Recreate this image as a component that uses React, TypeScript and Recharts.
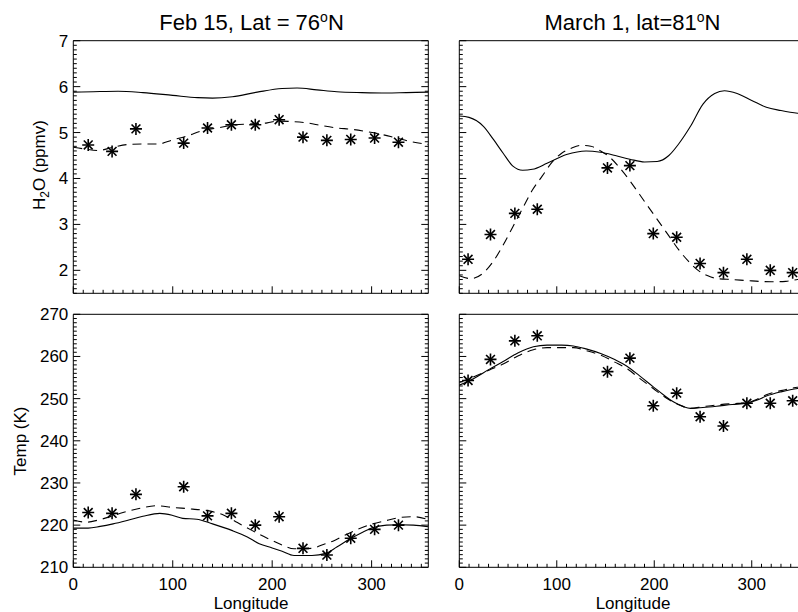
import React from 'react';
import { ComposedChart, Line, Scatter, XAxis, YAxis } from 'recharts';

const FONT = '"Liberation Sans", Arial, Helvetica, sans-serif';

// ---------- Feb 15, Lat = 76N ----------
const febObsLon = [15, 39, 63, 111, 135, 159, 183, 207, 231, 255, 279, 303, 327];
const febObsH2O = [4.73, 4.59, 5.08, 4.77, 5.1, 5.17, 5.17, 5.28, 4.9, 4.83, 4.85, 4.88, 4.79];
const febObsTemp = [223.0, 222.8, 227.3, 229.1, 222.2, 222.8, 220.0, 222.0, 214.5, 212.9, 216.9, 219.0, 220.0];

const febSolidH2OLon = [0, 20, 45, 70, 100, 125, 140, 160, 185, 210, 225, 245, 265, 290, 315, 335, 357];
const febSolidH2O = [5.88, 5.89, 5.9, 5.87, 5.81, 5.76, 5.75, 5.78, 5.88, 5.96, 5.97, 5.93, 5.89, 5.87, 5.86, 5.87, 5.88];

const febDashH2OLon = [0, 12, 25, 40, 55, 70, 85, 100, 115, 130, 145, 160, 180, 195, 205, 220, 235, 250, 265, 280, 295, 310, 325, 340, 357];
const febDashH2O = [4.68, 4.64, 4.61, 4.68, 4.74, 4.75, 4.75, 4.84, 4.93, 5.04, 5.1, 5.16, 5.19, 5.21, 5.25, 5.24, 5.21, 5.15, 5.1, 5.07, 5.02, 4.96, 4.88, 4.8, 4.74];

const febSolidTLon = [0, 15, 27, 40, 54, 70, 87, 100, 110, 124, 140, 160, 175, 187, 200, 210, 222, 240, 254, 265, 278, 290, 301, 315, 328, 342, 357];
const febSolidT = [219.3, 219.3, 219.7, 220.3, 221.1, 222.1, 222.8, 222.3, 221.6, 221.4, 220.3, 218.7, 217.2, 215.6, 214.6, 213.8, 212.8, 212.8, 213.3, 214.8, 216.7, 218.2, 219.4, 220.0, 220.1, 220.0, 219.6];

const febDashTLon = [0, 13, 25, 37, 50, 65, 84, 100, 120, 140, 152, 165, 180, 195, 210, 222, 240, 250, 261, 272, 285, 301, 315, 328, 342, 357];
const febDashT = [221.2, 220.7, 221.2, 222.0, 223.0, 223.9, 224.6, 224.2, 223.8, 223.2, 222.3, 220.6, 218.7, 216.9, 215.3, 214.4, 214.5, 215.3, 216.2, 217.5, 218.9, 220.3, 221.1, 221.8, 222.0, 221.3];

// ---------- March 1, lat = 81N ----------
const marObsLon = [9, 32, 57, 80, 152, 175, 199, 223, 247, 271, 295, 319, 342];
const marObsH2O = [2.24, 2.78, 3.24, 3.33, 4.23, 4.28, 2.8, 2.72, 2.15, 1.95, 2.24, 2.0, 1.95];
const marObsTemp = [254.3, 259.3, 263.7, 264.9, 256.4, 259.6, 248.3, 251.3, 245.7, 243.5, 248.9, 248.9, 249.5];

const marSolidH2OLon = [0, 10, 25, 35, 45, 55, 65, 75, 90, 110, 130, 145, 160, 175, 190, 203, 215, 225, 237, 250, 262, 272, 285, 300, 315, 330, 347, 357];
const marSolidH2O = [5.36, 5.33, 5.13, 4.85, 4.55, 4.27, 4.18, 4.2, 4.33, 4.52, 4.6, 4.57, 4.5, 4.42, 4.36, 4.37, 4.5, 4.75, 5.13, 5.62, 5.85, 5.91, 5.85, 5.7, 5.55, 5.48, 5.42, 5.4];

const marDashH2OLon = [0, 12, 25, 35, 45, 55, 65, 75, 85, 95, 105, 115, 125, 135, 145, 155, 165, 175, 185, 195, 205, 215, 225, 235, 245, 255, 265, 280, 300, 320, 335, 347, 357];
const marDashH2O = [1.88, 1.82, 1.95, 2.2, 2.55, 2.95, 3.35, 3.75, 4.05, 4.35, 4.55, 4.66, 4.72, 4.7, 4.6, 4.45, 4.22, 3.95, 3.65, 3.35, 3.05, 2.75, 2.45, 2.2, 2.0, 1.88, 1.82, 1.8, 1.77, 1.75, 1.76, 1.8, 1.82];

const marSolidTLon = [0, 15, 31, 45, 60, 76, 90, 105, 117, 130, 145, 160, 172, 185, 199, 210, 220, 230, 237, 250, 264, 280, 295, 305, 315, 330, 347, 357];
const marSolidT = [253.2, 254.8, 257.0, 258.8, 260.8, 262.3, 262.7, 262.7, 262.5, 261.8, 260.7, 259.2, 257.7, 255.4, 252.8, 250.8, 249.2, 248.1, 247.7, 247.9, 248.2, 248.6, 248.9, 249.6, 250.6, 251.6, 252.4, 252.6];

const marDashTLon = marSolidTLon;
const marDashT = [253.8, 255.2, 256.8, 258.2, 260.1, 261.6, 262.1, 262.1, 262.1, 261.4, 260.3, 258.6, 257.1, 254.8, 252.4, 250.5, 249.1, 248.1, 247.7, 248.1, 248.5, 248.8, 249.0, 249.8, 250.9, 251.9, 252.7, 252.9];

// ---------- axes ----------
const lonDomain: [number, number] = [0, 357];
const lonMajorTicks = [0, 100, 200, 300];
const lonMinorStep = 10;
const h2oDomain: [number, number] = [1.5, 7];
const h2oMajorTicks = [2, 3, 4, 5, 6, 7];
const h2oMinorStep = 0.1;
const tempDomain: [number, number] = [210, 270];
const tempMajorTicks = [210, 220, 230, 240, 250, 260, 270];
const tempMinorStep = 1;

const titles = ['Feb 15, Lat = 76', 'March 1, lat=81'];
const latLabels = ['o', 'N'];

type Pt = { lon: number; v: number };
const zip = (lons: number[], vals: number[]): Pt[] => lons.map((lon, i) => ({ lon, v: vals[i] }));

const buildTicks = (dom: [number, number], step: number): number[] => {
  const out: number[] = [];
  const n = Math.round((dom[1] - dom[0]) / step);
  for (let i = 0; i <= n; i++) out.push(Math.round((dom[0] + i * step) * 1000) / 1000);
  return out.filter((v) => v >= dom[0] - 1e-9 && v <= dom[1] + 1e-9);
};

const isIn = (arr: number[], v: number) => arr.some((a) => Math.abs(a - v) < 1e-6);

function Star(props: any) {
  const { cx, cy } = props;
  if (cx == null || cy == null) return <g />;
  const r = 6;
  const d = 4.4;
  return (
    <g stroke="#000" strokeWidth={1.6}>
      <line x1={cx - r} y1={cy} x2={cx + r} y2={cy} />
      <line x1={cx} y1={cy - r} x2={cx} y2={cy + r} />
      <line x1={cx - d} y1={cy - d} x2={cx + d} y2={cy + d} />
      <line x1={cx - d} y1={cy + d} x2={cx + d} y2={cy - d} />
    </g>
  );
}

type PanelProps = {
  left: number;
  top: number;
  w: number;
  h: number;
  yDomain: [number, number];
  yMajor: number[];
  yStep: number;
  showX: boolean;
  showY: boolean;
  solid: Pt[];
  dashed: Pt[];
  obs: Pt[];
};

const CW = 830;
const CH = 612;
const AX = 1; // thickness reserved by each axis in the layout

function Panel(p: PanelProps) {
  const xTicks = buildTicks(lonDomain, lonMinorStep);
  const yTicks = buildTicks(p.yDomain, p.yStep);

  const xTick = (side: 'bottom' | 'top') => (props: any) => {
    const { x, y, payload } = props;
    const val = payload.value;
    const major = isIn(lonMajorTicks, val);
    const len = major ? 7 : 3.5;
    const dir = side === 'bottom' ? -1 : 1;
    return (
      <g>
        <line x1={x} y1={y} x2={x} y2={y + dir * len} stroke="#000" strokeWidth={1} />
        {side === 'bottom' && p.showX && major ? (
          <text x={x} y={y + 23} textAnchor="middle" fontSize={17} fontFamily={FONT} fill="#000" stroke="none">
            {val}
          </text>
        ) : null}
      </g>
    );
  };

  const yTick = (side: 'left' | 'right') => (props: any) => {
    const { x, y, payload } = props;
    const val = payload.value;
    const major = isIn(p.yMajor, val);
    const len = major ? 7 : 3.5;
    const dir = side === 'left' ? 1 : -1;
    return (
      <g>
        <line x1={x} y1={y} x2={x + dir * len} y2={y} stroke="#000" strokeWidth={1} />
        {side === 'left' && p.showY && major ? (
          <text x={x - 5} y={y + 6} textAnchor="end" fontSize={17} fontFamily={FONT} fill="#000" stroke="none">
            {val}
          </text>
        ) : null}
      </g>
    );
  };

  const margin = {
    left: p.left - AX,
    top: p.top - AX,
    right: CW - p.left - p.w - AX,
    bottom: CH - p.top - p.h - AX,
  };
  const axisLine = { stroke: '#000', strokeWidth: 1 };

  return (
    <div style={{ position: 'absolute', left: 0, top: 0 }}>
      <ComposedChart width={CW} height={CH} margin={margin}>
        <XAxis
          xAxisId={0}
          dataKey="lon"
          type="number"
          orientation="bottom"
          domain={lonDomain}
          allowDataOverflow
          ticks={xTicks}
          interval={0}
          tickSize={0}
          tickMargin={0}
          tickLine={false}
          height={AX}
          axisLine={axisLine}
          tick={xTick('bottom')}
        />
        <XAxis
          xAxisId="top"
          type="number"
          orientation="top"
          domain={lonDomain}
          allowDataOverflow
          ticks={xTicks}
          interval={0}
          tickSize={0}
          tickMargin={0}
          tickLine={false}
          height={AX}
          axisLine={axisLine}
          tick={xTick('top')}
        />
        <YAxis
          yAxisId={0}
          type="number"
          orientation="left"
          domain={p.yDomain}
          allowDataOverflow
          ticks={yTicks}
          interval={0}
          tickSize={0}
          tickMargin={0}
          tickLine={false}
          width={AX}
          axisLine={axisLine}
          tick={yTick('left')}
        />
        <YAxis
          yAxisId="right"
          type="number"
          orientation="right"
          domain={p.yDomain}
          allowDataOverflow
          ticks={yTicks}
          interval={0}
          tickSize={0}
          tickMargin={0}
          tickLine={false}
          width={AX}
          axisLine={axisLine}
          tick={yTick('right')}
        />
        <Line
          data={p.solid}
          dataKey="v"
          type="monotone"
          stroke="#000"
          strokeWidth={1.1}
          dot={false}
          activeDot={false}
          isAnimationActive={false}
        />
        <Line
          data={p.dashed}
          dataKey="v"
          type="monotone"
          stroke="#000"
          strokeWidth={1.1}
          strokeDasharray="9 6"
          dot={false}
          activeDot={false}
          isAnimationActive={false}
        />
        <Scatter data={p.obs} dataKey="v" shape={Star} isAnimationActive={false} />
      </ComposedChart>
    </div>
  );
}

export default function App() {
  const txt = { fontFamily: FONT, fill: '#000' } as const;
  return (
    <div
      style={{
        position: 'fixed',
        left: 0,
        top: 0,
        width: 798,
        height: 612,
        overflow: 'hidden',
        background: '#fff',
      }}
    >
      <Panel
        left={73.3}
        top={40.7}
        w={355}
        h={252.6}
        yDomain={h2oDomain}
        yMajor={h2oMajorTicks}
        yStep={h2oMinorStep}
        showX={false}
        showY={true}
        solid={zip(febSolidH2OLon, febSolidH2O)}
        dashed={zip(febDashH2OLon, febDashH2O)}
        obs={zip(febObsLon, febObsH2O)}
      />
      <Panel
        left={459.3}
        top={40.7}
        w={348}
        h={252.6}
        yDomain={h2oDomain}
        yMajor={h2oMajorTicks}
        yStep={h2oMinorStep}
        showX={false}
        showY={false}
        solid={zip(marSolidH2OLon, marSolidH2O)}
        dashed={zip(marDashH2OLon, marDashH2O)}
        obs={zip(marObsLon, marObsH2O)}
      />
      <Panel
        left={73.3}
        top={314.3}
        w={355}
        h={253}
        yDomain={tempDomain}
        yMajor={tempMajorTicks}
        yStep={tempMinorStep}
        showX={true}
        showY={true}
        solid={zip(febSolidTLon, febSolidT)}
        dashed={zip(febDashTLon, febDashT)}
        obs={zip(febObsLon, febObsTemp)}
      />
      <Panel
        left={459.3}
        top={314.3}
        w={348}
        h={253}
        yDomain={tempDomain}
        yMajor={tempMajorTicks}
        yStep={tempMinorStep}
        showX={true}
        showY={false}
        solid={zip(marSolidTLon, marSolidT)}
        dashed={zip(marDashTLon, marDashT)}
        obs={zip(marObsLon, marObsTemp)}
      />
      <svg
        width={798}
        height={612}
        style={{ position: 'absolute', left: 0, top: 0, pointerEvents: 'none' }}
      >
        <text x={251.5} y={30} textAnchor="middle" fontSize={22} {...txt}>
          {titles[0]}
          <tspan dy={-8} fontSize={14}>
            {latLabels[0]}
          </tspan>
          <tspan dy={8}>{latLabels[1]}</tspan>
        </text>
        <text x={632.5} y={30} textAnchor="middle" fontSize={22} {...txt}>
          {titles[1]}
          <tspan dy={-8} fontSize={14}>
            {latLabels[0]}
          </tspan>
          <tspan dy={8}>{latLabels[1]}</tspan>
        </text>
        <text x={44.5} y={165} textAnchor="middle" fontSize={17} transform="rotate(-90 44.5 165)" {...txt}>
          H
          <tspan dy={4} fontSize={12}>
            2
          </tspan>
          <tspan dy={-4}>O (ppmv)</tspan>
        </text>
        <text x={26} y={441} textAnchor="middle" fontSize={17} transform="rotate(-90 26 441)" {...txt}>
          Temp (K)
        </text>
        <text x={251} y={609} textAnchor="middle" fontSize={17} {...txt}>
          Longitude
        </text>
        <text x={633} y={609} textAnchor="middle" fontSize={17} {...txt}>
          Longitude
        </text>
      </svg>
    </div>
  );
}
